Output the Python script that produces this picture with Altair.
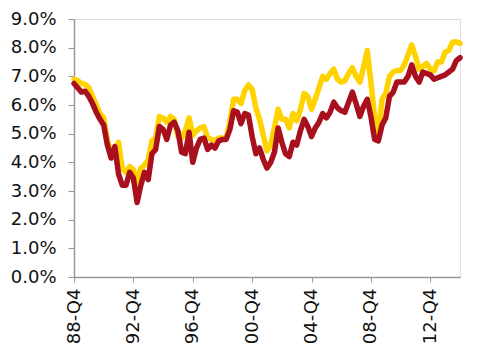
import altair as alt
import pandas as pd

start_year = 1988
start_q = 4
tick_labels = ["88-Q4", "92-Q4", "96-Q4", "00-Q4", "04-Q4", "08-Q4", "12-Q4"]
y_ticks = [0, 1, 2, 3, 4, 5, 6, 7, 8, 9]

yellow_vals = [
    6.9, 6.85, 6.75, 6.72, 6.6, 6.3, 6.0, 5.7, 5.55, 4.75,
    4.4, 4.45, 4.7, 3.8, 3.65, 3.85, 3.75, 3.3, 3.8, 3.9,
    4.1, 4.75, 4.85, 5.6, 5.55, 5.4, 5.6, 5.5, 4.9, 4.85,
    5.1, 5.55, 4.95, 5.1, 5.2, 5.25, 4.85, 4.8, 4.75, 4.85,
    4.85, 4.85, 5.4, 6.2, 6.2, 6.05, 6.5, 6.7, 6.55, 5.9,
    5.5, 4.95, 4.4, 4.6, 5.2, 5.85, 5.5, 5.5, 5.2, 5.7,
    5.45, 5.85, 6.4, 6.3, 5.85, 6.2, 6.6, 7.0, 6.9, 7.1,
    7.25, 6.9, 6.8, 6.85, 7.1, 7.3, 7.0, 6.8, 7.3, 7.9,
    6.8, 5.6, 5.0, 6.2, 6.4, 7.0, 7.15, 7.2, 7.2, 7.4,
    7.75, 8.1, 7.7, 7.25, 7.35, 7.45, 7.25, 7.2, 7.5, 7.5,
    7.85, 7.9, 8.2, 8.2, 8.15,
]

red_vals = [
    6.75, 6.6, 6.45, 6.48, 6.3, 6.05, 5.75, 5.5, 5.3, 4.6,
    4.15, 4.55, 3.6, 3.2, 3.2, 3.65, 3.45, 2.6, 3.2, 3.65,
    3.4, 4.3, 4.45, 5.25, 5.15, 4.8, 5.3, 5.4, 5.1, 4.35,
    4.3, 5.05, 4.0, 4.5, 4.8, 4.85, 4.45, 4.6, 4.5, 4.75,
    4.8, 4.8, 5.15, 5.8, 5.75, 5.35, 5.7, 5.65, 4.9, 4.3,
    4.5, 4.1, 3.8, 4.0, 4.35, 5.2, 4.7, 4.3, 4.2, 4.7,
    4.6, 5.1, 5.5, 5.25, 4.9, 5.2, 5.4, 5.7, 5.55, 5.75,
    6.1, 5.9, 5.8, 5.75, 6.1, 6.45, 6.05, 5.6, 5.95, 6.2,
    5.6, 4.8, 4.75, 5.3, 5.55, 6.3, 6.45, 6.8, 6.8, 6.8,
    7.0, 7.4, 7.0, 6.8, 7.15, 7.1, 7.05, 6.9, 6.95, 7.0,
    7.05, 7.15, 7.25, 7.55, 7.65,
]

series_names = ["Yellow", "Red"]
series_colors = ["#FFD200", "#A8101E"]

quarters = []
y, q = start_year, start_q
for _ in range(len(red_vals)):
    quarters.append(f"{y % 100:02d}-Q{q}")
    q += 1
    if q > 4:
        q = 1
        y += 1

rows = []
for name, vals in zip(series_names, [yellow_vals, red_vals]):
    for i, v in enumerate(vals):
        rows.append({"quarter": quarters[i], "value": v / 100, "series": name})
df = pd.DataFrame(rows)

FONT = "DejaVu Sans"

chart = alt.Chart(df).mark_line(strokeWidth=5.5, strokeJoin="round", strokeCap="round").encode(
    x=alt.X(
        "quarter:O",
        sort=quarters,
        scale=alt.Scale(type="point", padding=0),
        axis=alt.Axis(
            values=tick_labels,
            labelAngle=-90,
            labelFontSize=18,
            labelFont=FONT,
            labelColor="#111111",
            labelPadding=6,
            tickSize=5,
            tickColor="#999999",
            domainColor="#999999",
            domainWidth=1.5,
            title=None,
            grid=False,
        ),
    ),
    y=alt.Y(
        "value:Q",
        scale=alt.Scale(domain=[0, 0.09], nice=False),
        axis=alt.Axis(
            values=[t / 100 for t in y_ticks],
            format=".1%",
            labelFontSize=18,
            labelFont=FONT,
            labelColor="#111111",
            labelPadding=12,
            tickSize=6,
            tickColor="#999999",
            domainColor="#999999",
            domainWidth=1.5,
            title=None,
            grid=False,
        ),
    ),
    color=alt.Color(
        "series:N",
        scale=alt.Scale(domain=series_names, range=series_colors),
        legend=None,
    ),
    order=alt.Order("series_order:Q"),
).transform_calculate(
    series_order="datum.series == 'Yellow' ? 0 : 1"
).properties(
    width=386,
    height=258,
    autosize=alt.AutoSizeParams(type="none"),
    padding={"left": 74, "top": 19, "right": 25, "bottom": 77},
).configure_view(stroke=None).configure(background="white")

chart.save("out.html", embed_options={"renderer": "svg", "actions": False})
